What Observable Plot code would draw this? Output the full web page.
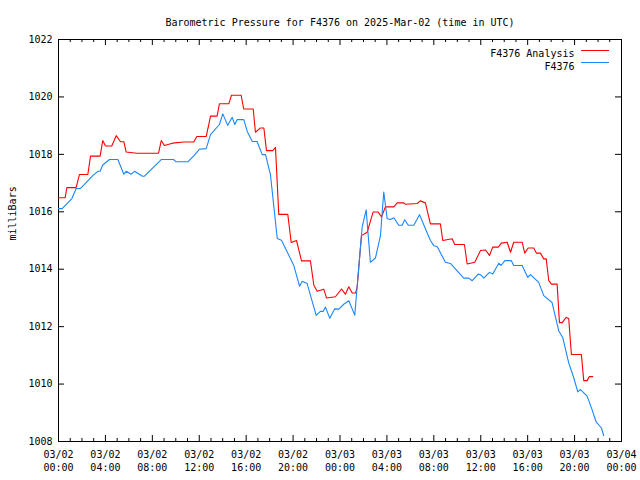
<!DOCTYPE html>
<html><head><meta charset="utf-8">
<script src="https://cdn.jsdelivr.net/npm/d3@7"></script>
<script src="https://cdn.jsdelivr.net/npm/@observablehq/plot@0.6"></script>
<style>body{margin:0;background:#fff}</style>
</head><body><div id="chart"></div>
<script>
const titleText = "Barometric Pressure for F4376 on 2025-Mar-02 (time in UTC)";
const yLabel = "milliBars";
const seriesNames = ["F4376 Analysis", "F4376"];
const seriesColors = ["#ff0000", "#1a86ff"];
const startUTC = "2025-03-02T00:00:00Z";
const endUTC = "2025-03-04T00:00:00Z";
const yTicks = [1008, 1010, 1012, 1014, 1016, 1018, 1020, 1022];
const xMajorStepHours = 4;

// hours since 2025-03-02 00:00 UTC
const analysisHours = [0,0.57,0.71,1.50,1.79,2.50,2.73,3.55,3.77,4.01,4.54,4.92,5.29,5.57,5.77,6.67,8.53,8.76,9.03,9.72,10.68,11.53,11.79,12.59,12.87,12.96,13.52,13.72,14.52,14.75,15.57,15.79,16.60,16.79,17.22,17.51,17.73,18.27,18.50,18.78,19.55,19.84,20.29,20.72,21.48,21.77,22.06,22.62,22.85,23.61,24.13,24.46,24.75,25.04,25.32,25.46,25.83,26.32,26.82,27.25,27.54,27.87,28.59,28.87,29.44,29.58,30.58,30.85,31.28,31.71,32.56,32.76,33.56,33.78,34.61,34.84,35.49,35.98,36.41,36.74,37.02,37.49,37.76,38.25,38.54,38.81,39.53,39.75,40.04,40.52,40.75,41.09,41.37,41.58,41.80,42.02,42.51,42.71,42.94,43.28,43.50,43.73,44.58,44.78,45.07,45.26,45.55];
const analysisValues = [1016.49,1016.49,1016.84,1016.84,1017.30,1017.30,1017.94,1017.94,1018.48,1018.29,1018.29,1018.65,1018.44,1018.44,1018.08,1018.04,1018.04,1018.48,1018.31,1018.39,1018.43,1018.43,1018.62,1018.62,1019.15,1019.33,1019.33,1019.76,1019.76,1020.06,1020.06,1019.58,1019.58,1018.77,1018.92,1018.92,1018.13,1018.13,1018.24,1015.91,1015.91,1014.93,1015.00,1014.29,1014.29,1013.44,1013.23,1013.30,1013.00,1013.04,1013.31,1013.13,1013.39,1013.17,1013.17,1013.37,1015.17,1015.29,1015.99,1015.99,1015.82,1016.17,1016.17,1016.31,1016.31,1016.26,1016.29,1016.38,1016.31,1015.58,1015.58,1015.00,1015.06,1014.86,1014.86,1014.18,1014.24,1014.65,1014.67,1014.48,1014.77,1014.77,1014.91,1014.94,1014.59,1014.94,1014.94,1014.56,1014.74,1014.74,1014.56,1014.56,1014.36,1014.36,1013.60,1013.48,1013.48,1012.14,1012.14,1012.32,1012.28,1011.03,1011.03,1010.12,1010.12,1010.26,1010.26];

const stationHours = [0,0.31,1.14,1.51,1.85,2.13,2.92,3.35,3.55,3.77,4.35,5.06,5.57,5.77,6.20,6.48,7.16,7.33,8.76,9.81,10.03,11.03,11.59,12.02,12.59,12.96,13.72,14.01,14.43,14.81,15.03,15.24,15.80,16.09,16.52,16.93,17.37,17.65,18.07,18.65,19.01,20.05,20.55,20.78,21.20,21.97,22.33,22.56,22.76,23.13,23.55,23.90,24.32,24.75,25.26,25.60,25.89,26.23,26.59,27.02,27.45,27.73,28.02,28.30,28.59,29.01,29.30,29.52,29.82,30.29,30.78,31.22,31.71,32.00,32.28,32.99,33.41,34.55,34.98,35.27,35.78,35.98,36.26,36.74,37.02,37.54,37.73,38.05,38.60,38.81,39.53,40.00,40.24,40.94,41.37,42.08,42.65,42.99,43.50,43.93,44.27,44.50,45.07,45.49,45.84,46.29,46.48];
const stationValues = [1016.11,1016.11,1016.46,1016.81,1016.81,1016.92,1017.26,1017.41,1017.41,1017.63,1017.82,1017.82,1017.31,1017.41,1017.31,1017.41,1017.24,1017.24,1017.82,1017.82,1017.74,1017.74,1017.97,1018.18,1018.20,1018.69,1019.04,1019.41,1019.01,1019.29,1019.04,1019.21,1019.21,1018.80,1018.45,1018.45,1017.99,1017.99,1017.29,1015.07,1015.01,1014.14,1013.41,1013.58,1013.50,1012.39,1012.53,1012.53,1012.68,1012.29,1012.62,1012.61,1012.78,1012.90,1012.40,1014.07,1015.47,1016.07,1014.24,1014.39,1015.17,1016.69,1015.76,1015.73,1015.79,1015.53,1015.53,1015.72,1015.53,1015.53,1015.90,1015.47,1015.00,1014.82,1014.79,1014.24,1014.20,1013.69,1013.69,1013.60,1013.83,1013.81,1013.69,1013.89,1013.83,1014.21,1014.13,1014.30,1014.30,1014.13,1014.13,1013.72,1013.81,1013.54,1013.08,1012.84,1011.85,1011.62,1010.74,1010.22,1009.73,1009.81,1009.58,1009.11,1008.68,1008.47,1008.21];

const t0 = new Date(startUTC), t1 = new Date(endUTC);
const toDate = h => new Date(+t0 + h * 3600000);
const analysis = analysisHours.map((h, i) => ({t: toDate(h), v: analysisValues[i]}));
const station = stationHours.map((h, i) => ({t: toDate(h), v: stationValues[i]}));

const allHours = d3.utcHour.range(t0, new Date(+t1 + 1));
const majorX = allHours.filter(d => d.getUTCHours() % xMajorStepHours === 0);
const minorX = allHours.filter(d => d.getUTCHours() % xMajorStepHours !== 0);
const fmtDay = d3.utcFormat("%m/%d"), fmtTime = d3.utcFormat("%H:%M");

const W = 640, H = 480, mL = 58, mR = 19, mT = 39, mB = 39;
const pw = W - mL - mR, ph = H - mT - mB;
const major = 6, minor = 3;

const chart = Plot.plot({
  width: W, height: H,
  marginLeft: mL, marginRight: mR, marginTop: mT, marginBottom: mB,
  style: {fontFamily: "'DejaVu Sans Mono', monospace", fontSize: "10px", background: "#fff", color: "#000"},
  x: {type: "utc", domain: [t0, t1]},
  y: {domain: [yTicks[0], yTicks[yTicks.length - 1]]},
  marks: [
    Plot.frame({stroke: "#000"}),
    // bottom & top ticks
    Plot.tickX(majorX, {x: d => d, insetTop: ph - major, stroke: "#000"}),
    Plot.tickX(minorX, {x: d => d, insetTop: ph - minor, stroke: "#000"}),
    Plot.tickX(majorX, {x: d => d, insetBottom: ph - major, stroke: "#000"}),
    Plot.tickX(minorX, {x: d => d, insetBottom: ph - minor, stroke: "#000"}),
    // left & right ticks
    Plot.tickY(yTicks, {y: d => d, insetRight: pw - major, stroke: "#000"}),
    Plot.tickY(yTicks, {y: d => d, insetLeft: pw - major, stroke: "#000"}),
    Plot.line(analysis, {x: "t", y: "v", stroke: seriesColors[0], strokeWidth: 1.1}),
    Plot.line(station, {x: "t", y: "v", stroke: seriesColors[1], strokeWidth: 1.1}),
    Plot.axisX(majorX, {tickSize: 0, tickPadding: 7, label: null, lineHeight: 1.3,
      tickFormat: d => fmtDay(d) + "\n" + fmtTime(d)}),
    Plot.axisY(yTicks, {tickSize: 0, tickPadding: 6, label: null, tickFormat: d => String(d)}),
    Plot.text([titleText], {text: d => d, frameAnchor: "top", dy: -21}),
    Plot.text([yLabel], {text: d => d, frameAnchor: "left", dx: -46, rotate: -90}),
    // legend
    Plot.text([seriesNames[0]], {text: d => d, frameAnchor: "top-right", textAnchor: "end", dx: -47, dy: 10}),
    Plot.text([seriesNames[1]], {text: d => d, frameAnchor: "top-right", textAnchor: "end", dx: -47, dy: 23}),
    Plot.tickY([yTicks[yTicks.length - 1]], {y: d => d, dy: 11, insetLeft: pw - 40, insetRight: 12, stroke: seriesColors[0]}),
    Plot.tickY([yTicks[yTicks.length - 1]], {y: d => d, dy: 23, insetLeft: pw - 40, insetRight: 12, stroke: seriesColors[1]})
  ]
});
document.getElementById("chart").appendChild(chart);
</script>
</body></html>
